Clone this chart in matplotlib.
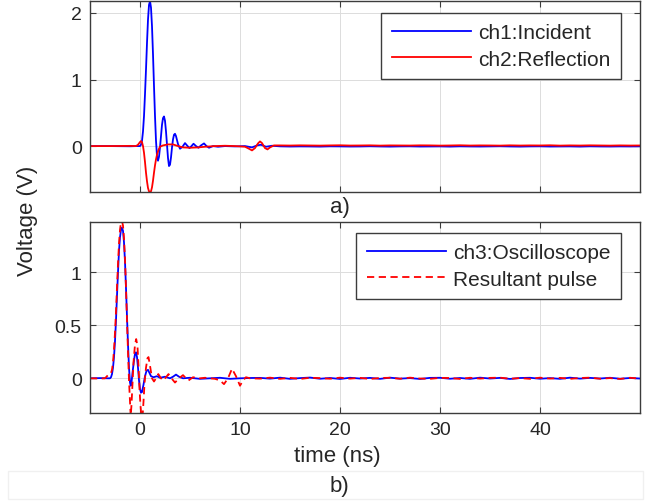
import matplotlib
matplotlib.use("Agg")
import matplotlib.pyplot as plt
from matplotlib.patches import Rectangle
import numpy as np

plt.rcParams['font.family'] = ['Liberation Sans', 'DejaVu Sans']

# ---------------- data ----------------
# panel a) ch1: Incident
t_inc = [-5, -3, -1, -0.3, 0.0, 0.1, 0.2, 0.3, 0.4, 0.5, 0.6, 0.7, 0.8, 0.9, 1.0,
         1.1, 1.2, 1.3, 1.4, 1.5, 1.6, 1.7, 1.8, 1.9, 2.0, 2.1, 2.2, 2.3, 2.4, 2.5,
         2.6, 2.7, 2.8, 2.9, 3.0, 3.1, 3.2, 3.3, 3.4, 3.5, 3.6, 3.8, 4.0, 4.25, 4.5,
         4.7, 4.95, 5.15, 5.35, 5.6, 5.85, 6.1, 6.4, 6.65, 6.9, 7.3, 7.8, 8.5, 9.5,
         10.5, 11.2, 11.7, 12.1, 12.6, 13.2]
v_inc = [0.0, 0.0, -0.003, 0.0, 0.0, 0.02, 0.08, 0.22, 0.45, 0.78, 1.15, 1.55, 1.9, 2.12, 2.18,
         2.08, 1.8, 1.38, 0.9, 0.45, 0.08, -0.15, -0.22, -0.16, -0.02, 0.15, 0.32, 0.42, 0.445, 0.38,
         0.22, 0.02, -0.18, -0.3, -0.28, -0.17, -0.02, 0.1, 0.17, 0.185, 0.15, 0.03, -0.04, -0.01, 0.045,
         0.01, -0.03, 0.0, 0.035, 0.0, -0.025, 0.01, 0.04, 0.0, -0.025, 0.0, -0.01, 0.0, -0.005,
         0.0, -0.02, 0.01, 0.02, -0.01, 0.005]

# panel a) ch2: Reflection
t_ref = [-5, -3, -1, -0.4, -0.2, 0.0, 0.1, 0.2, 0.3, 0.4, 0.5, 0.6, 0.7, 0.8, 0.9, 1.0,
         1.1, 1.2, 1.3, 1.4, 1.5, 1.6, 1.7, 1.8, 1.9, 2.0, 2.3, 2.8, 3.3, 3.8, 4.3, 5.0,
         5.8, 6.5, 7.5, 8.5, 9.5, 10.5, 10.9, 11.2, 11.5, 11.8, 12.0, 12.2, 12.5, 12.75,
         13.0, 13.4]
v_ref = [0.0, 0.0, 0.003, 0.0, 0.02, 0.06, 0.075, 0.06, 0.0, -0.1, -0.24, -0.4, -0.53, -0.63, -0.68, -0.69,
         -0.68, -0.62, -0.52, -0.4, -0.29, -0.2, -0.13, -0.08, -0.04, -0.01, 0.01, 0.025, 0.025, 0.0, -0.02, -0.025,
         -0.02, -0.01, 0.0, 0.005, 0.0, -0.01, -0.04, -0.065, -0.03, 0.04, 0.07, 0.045, -0.03, -0.05,
         -0.02, 0.01]

t_tail_a = list(range(14, 51))
v_inc_tail = [-0.004, -0.007, -0.005, -0.006, -0.008, -0.004, -0.005, -0.007, -0.006, -0.003,
              -0.006, -0.008, -0.005, -0.004, -0.007, -0.006, -0.005, -0.008, -0.004, -0.006,
              -0.007, -0.005, -0.003, -0.006, -0.008, -0.005, -0.004, -0.007, -0.006, -0.005,
              -0.008, -0.004, -0.006, -0.007, -0.005, -0.006, -0.004]
v_ref_tail = [0.010, 0.008, 0.011, 0.009, 0.007, 0.010, 0.012, 0.008, 0.009, 0.011,
              0.007, 0.010, 0.009, 0.008, 0.011, 0.010, 0.007, 0.009, 0.012, 0.008,
              0.010, 0.009, 0.007, 0.011, 0.008, 0.010, 0.009, 0.012, 0.007, 0.010,
              0.008, 0.011, 0.009, 0.007, 0.010, 0.008, 0.009]

# panel b) ch3: Oscilloscope
t_osc = [-5, -4, -3.2, -3.0, -2.9, -2.8, -2.7, -2.6, -2.5, -2.4, -2.3, -2.2, -2.1, -2.0, -1.9,
         -1.8, -1.7, -1.6, -1.5, -1.4, -1.3, -1.2, -1.1, -1.0, -0.93, -0.85, -0.75, -0.6, -0.5,
         -0.4, -0.3, -0.2, -0.1, 0.0, 0.1, 0.2, 0.35, 0.5, 0.65, 0.8, 0.95, 1.1, 1.35, 1.7,
         2.0, 2.5, 3.0, 3.3, 3.6, 3.9, 4.3, 5, 6, 7, 8, 9, 10, 11]
v_osc = [0.0, 0.002, 0.0, 0.0, 0.01, 0.04, 0.1, 0.2, 0.35, 0.55, 0.78, 1.0, 1.2, 1.33, 1.4,
         1.42, 1.39, 1.28, 1.1, 0.85, 0.58, 0.32, 0.1, -0.04, -0.07, -0.04, 0.05, 0.17, 0.23,
         0.245, 0.2, 0.1, -0.02, -0.1, -0.135, -0.13, -0.06, 0.02, 0.07, 0.08, 0.05, 0.02, 0.01, 0.02,
         0.005, 0.015, 0.0, 0.015, 0.035, 0.015, 0.0, 0.005, -0.005, 0.0, 0.005, -0.005, 0.0, 0.003]

# panel b) Resultant pulse
t_res = [-5, -4, -3.5, -3.3, -3.1, -3.0, -2.9, -2.8, -2.7, -2.6, -2.5, -2.4, -2.3, -2.2, -2.1,
         -2.0, -1.9, -1.8, -1.7, -1.6, -1.5, -1.4, -1.3, -1.2, -1.1, -1.0, -0.93, -0.85, -0.75,
         -0.65, -0.5, -0.38, -0.25, -0.15, -0.05, 0.05, 0.15, 0.25, 0.35, 0.45, 0.6, 0.75, 0.85,
         1.0, 1.2, 1.4, 1.6, 1.83, 2.1, 2.33, 2.6, 2.85, 3.15, 3.5, 3.9, 4.3, 4.6, 4.85, 5.3,
         6, 6.5, 7, 7.5, 8.0, 8.4, 8.8, 9.2, 9.6, 10.0, 10.3, 10.6, 11]
v_res = [0.0, -0.002, 0.0, 0.02, 0.04, 0.04, 0.05, 0.08, 0.15, 0.27, 0.43, 0.63, 0.86, 1.08, 1.27,
         1.4, 1.47, 1.48, 1.44, 1.32, 1.12, 0.85, 0.55, 0.25, -0.02, -0.22, -0.36, -0.25, -0.05,
         0.15, 0.32, 0.37, 0.3, 0.12, -0.1, -0.26, -0.36, -0.37, -0.22, -0.05, 0.1, 0.19, 0.2,
         0.12, 0.0, -0.03, 0.0, 0.04, 0.0, -0.02, 0.01, 0.04, 0.0, -0.04, 0.0, 0.03, 0.0, -0.02, 0.01,
         0.0, 0.005, 0.0, -0.005, -0.02, -0.055, 0.0, 0.09, 0.02, -0.07, -0.02, 0.01, 0.0]

t_tail_b = list(range(12, 51))
v_osc_tail = [0.004, -0.003, 0.006, -0.005, 0.002, 0.007, -0.004, 0.003, -0.006, 0.005,
              -0.002, 0.004, -0.005, 0.006, -0.003, 0.002, -0.006, 0.004, 0.005, -0.004,
              0.003, -0.005, 0.006, -0.002, 0.004, -0.006, 0.003, 0.005, -0.004, 0.002,
              -0.005, 0.006, -0.003, 0.004, -0.002, 0.005, -0.004, 0.003, -0.002]
v_res_tail = [-0.003, 0.006, -0.005, 0.004, -0.006, 0.005, 0.002, -0.004, 0.006, -0.003,
              0.004, -0.006, 0.003, 0.005, -0.004, 0.006, -0.002, -0.005, 0.004, 0.003,
              -0.006, 0.005, -0.003, 0.004, 0.006, -0.004, 0.002, -0.005, 0.006, -0.003,
              0.004, -0.005, 0.003, 0.006, -0.004, 0.002, -0.006, 0.005, -0.003]

x_ticks = [0, 10, 20, 30, 40]
x_ticklabels = ['0', '10', '20', '30', '40']
ya_ticks = [0, 1, 2]
ya_ticklabels = ['0', '1', '2']
yb_ticks = [0, 0.5, 1]
yb_ticklabels = ['0', '0.5', '1']

labels_a = ['ch1:Incident', 'ch2:Reflection']
labels_b = ['ch3:Oscilloscope', 'Resultant pulse']

# ---------------- figure ----------------
W, H = 657, 502
fig = plt.figure(figsize=(W / 100, H / 100), dpi=100)

def fx(px):
    return px / W

def fy(py):
    return 1 - py / H

ax_a = fig.add_axes([fx(90), fy(193), fx(640) - fx(90), fy(2) - fy(193)])
ax_b = fig.add_axes([fx(90), fy(414), fx(640) - fx(90), fy(222.5) - fy(414)])

edge = '#3c3c3c'
txt = '#262626'

def style(ax):
    for s in ax.spines.values():
        s.set_color(edge)
        s.set_linewidth(1.0)
    ax.tick_params(direction='in', length=4, width=0.8, color=edge,
                   top=True, right=True, labelsize=14, labelcolor=txt, pad=6)
    ax.grid(True, color='#dcdcdc', linewidth=0.7)
    ax.set_axisbelow(True)
    ax.set_xlim(-5, 50)
    ax.set_xticks(x_ticks)

style(ax_a)
style(ax_b)

lw = 1.3
ax_a.plot(list(t_inc) + t_tail_a, list(v_inc) + v_inc_tail, color='#0000ff', lw=lw, label=labels_a[0])
ax_a.plot(list(t_ref) + t_tail_a, list(v_ref) + v_ref_tail, color='#ff0000', lw=lw, label=labels_a[1])
ax_a.set_ylim(-0.69, 2.18)
ax_a.set_yticks(ya_ticks)
ax_a.set_yticklabels(ya_ticklabels)
ax_a.set_xticklabels([])

ax_b.plot(list(t_osc) + t_tail_b, list(v_osc) + v_osc_tail, color='#0000ff', lw=lw, label=labels_b[0])
ax_b.plot(list(t_res) + t_tail_b, list(v_res) + v_res_tail, color='#ff0000', lw=lw,
          linestyle=(0, (4, 2.5)), label=labels_b[1])
ax_b.set_ylim(-0.327, 1.478)
ax_b.set_yticks(yb_ticks)
ax_b.set_yticklabels(yb_ticklabels)
ax_b.set_xticklabels(x_ticklabels)

leg_kw = dict(loc='upper right', fontsize=15, frameon=True, fancybox=False,
              framealpha=1, edgecolor=edge, handlelength=3.8, handletextpad=0.35,
              borderpad=0.5, labelspacing=0.35, borderaxespad=0)
la = ax_a.legend(bbox_to_anchor=(fx(621), fy(14)), bbox_transform=fig.transFigure, **leg_kw)
lb = ax_b.legend(bbox_to_anchor=(fx(621), fy(234)), bbox_transform=fig.transFigure, **leg_kw)
for lg in (la, lb):
    lg.get_frame().set_linewidth(1.0)
    for t in lg.get_texts():
        t.set_color(txt)

fig.text(fx(340), fy(208), 'a)', ha='center', va='center', fontsize=16, color=txt)
fig.text(fx(337), fy(457), 'time (ns)', ha='center', va='center', fontsize=16, color=txt)
fig.text(fx(339), fy(487), 'b)', ha='center', va='center', fontsize=16, color=txt)
fig.text(fx(27), fy(221), 'Voltage (V)', ha='center', va='center', rotation=90,
         fontsize=16, color=txt)

fig.patches.append(Rectangle((fx(8), fy(500)), fx(643) - fx(8), fy(472) - fy(500),
                             transform=fig.transFigure, fill=False,
                             edgecolor='#f0f0f0', linewidth=1.0))

fig.savefig('out.png', dpi=100)
